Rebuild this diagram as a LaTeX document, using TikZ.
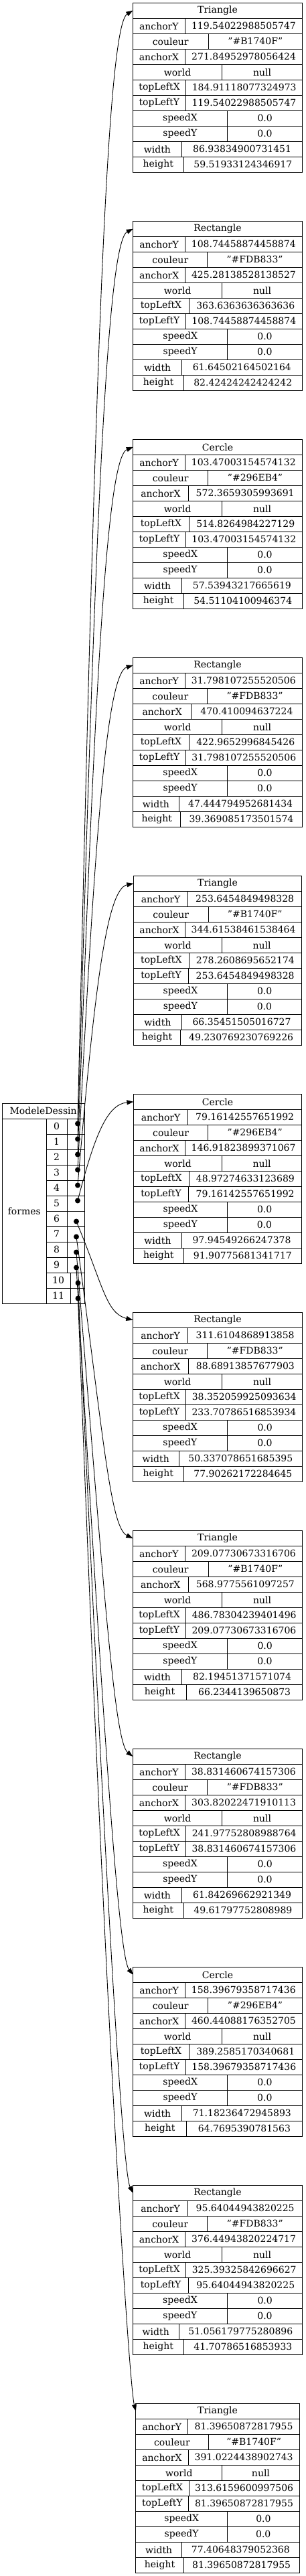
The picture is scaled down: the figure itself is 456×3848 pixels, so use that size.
\documentclass[tikz,border=0pt]{standalone}
\usepackage{fontspec}
\setmainfont{DejaVu Serif}
\usetikzlibrary{arrows.meta,calc}

\newcommand\recfont{\fontsize{14}{16}\selectfont}
\newdimen\keyw
\newdimen\valw
\newdimen\rowmax
% natural width of a cell text, spaces from the lists stripped
\newcommand\measure[2]{\setbox0=\hbox{\recfont\ignorespaces#2\unskip}#1=\wd0\relax}
% widest key+value pair of a record
\newcommand\fitrow[2]{%
  \measure\keyw{#1}\measure\valw{#2}%
  \ifdim\dimexpr\keyw+\valw\relax>\rowmax \global\rowmax=\dimexpr\keyw+\valw\relax\fi}

\def\rh{23}
\def\cx{325}
\def\gap{326}

% index / kind / anchorY / couleur / anchorX / topLeftX / topLeftY / width / height
\def\shapes{%
  0/Triangle/119.54022988505747/"\#B1740F"/271.84952978056424/184.91118077324973/119.54022988505747/86.93834900731451/59.51933124346917,%
  1/Rectangle/108.74458874458874/"\#FDB833"/425.28138528138527/363.6363636363636/108.74458874458874/61.64502164502164/82.42424242424242,%
  2/Cercle/103.47003154574132/"\#296EB4"/572.3659305993691/514.8264984227129/103.47003154574132/57.53943217665619/54.51104100946374,%
  3/Rectangle/31.798107255520506/"\#FDB833"/470.410094637224/422.9652996845426/31.798107255520506/47.444794952681434/39.369085173501574,%
  4/Triangle/253.6454849498328/"\#B1740F"/344.61538461538464/278.2608695652174/253.6454849498328/66.35451505016727/49.230769230769226,%
  5/Cercle/79.16142557651992/"\#296EB4"/146.91823899371067/48.97274633123689/79.16142557651992/97.94549266247378/91.90775681341717,%
  6/Rectangle/311.6104868913858/"\#FDB833"/88.68913857677903/38.352059925093634/233.70786516853934/50.337078651685395/77.90262172284645,%
  7/Triangle/209.07730673316706/"\#B1740F"/568.9775561097257/486.78304239401496/209.07730673316706/82.19451371571074/66.2344139650873,%
  8/Rectangle/38.831460674157306/"\#FDB833"/303.82022471910113/241.97752808988764/38.831460674157306/61.84269662921349/49.61797752808989,%
  9/Cercle/158.39679358717436/"\#296EB4"/460.44088176352705/389.2585170340681/158.39679358717436/71.18236472945893/64.7695390781563,%
  10/Rectangle/95.64044943820225/"\#FDB833"/376.44943820224717/325.39325842696627/95.64044943820225/51.056179775280896/41.70786516853933,%
  11/Triangle/81.39650872817955/"\#B1740F"/391.0224438902743/313.6159600997506/81.39650872817955/77.40648379052368/81.39650872817955%
}
\def\rowlist{anchorY/\ay,couleur/\col,anchorX/\ax,world/null,topLeftX/\tlx,topLeftY/\tly,speedX/0.0,speedY/0.0,width/\vw,height/\vh}

\tikzset{
  cell/.style={draw=black, line width=0.9pt, minimum height=\rh pt, inner sep=0pt, outer sep=0pt, font=\recfont},
  link/.style={line width=0.9pt, -{Triangle[length=10pt,width=7pt]}},
}

\begin{document}
% record widths and key/value splits, measured outside the picture
\foreach \i/\kind/\ay/\col/\ax/\tlx/\tly/\vw/\vh in \shapes {%
  \global\rowmax=0pt
  \foreach \k/\v in \rowlist {\fitrow{\k}{\v}}%
  \pgfmathsetmacro{\W}{\the\rowmax+36}%
  \expandafter\xdef\csname recw\i\endcsname{\W}%
  \foreach \k/\v [count=\r] in \rowlist {%
    \measure\keyw{\k}\measure\valw{\v}%
    \pgfmathsetmacro{\kx}{(\W+\the\keyw-\the\valw)/2}%
    \expandafter\xdef\csname reck\i-\r\endcsname{\kx}%
  }%
}%
\begin{tikzpicture}[x=1pt, y=-1pt]
\fill[white] (0,0) rectangle (456,3848);
\useasboundingbox (0,0) rectangle (456,3848);

% ModeleDessin: header, list cell, then index | pointer rows
\node[cell, anchor=north west, minimum width=122.7pt] (modele) at (3.3,1648) {ModeleDessin};
\node[cell, anchor=north west, minimum width=66pt, minimum height=276pt] (formes) at (3.3,1671) {formes};
\foreach \r in {0,...,11} {
  \pgfmathsetmacro{\iw}{\r<10 ? 30.7 : 35.7}
  \node[cell, anchor=north west, minimum width=\iw pt] (n\r) at (69.3,{1671+\rh*\r}) {\r};
  \node[cell, anchor=north west, minimum width={(56.7-\iw)*1pt}] (p\r) at ({69.3+\iw},{1671+\rh*\r}) {};
}

% one record per shape
\foreach \i/\kind/\ay/\col/\ax/\tlx/\tly/\vw/\vh in \shapes {
  \pgfmathsetmacro{\ytop}{4.3+\gap*\i}
  \edef\W{\csname recw\i\endcsname}
  \pgfmathsetmacro{\lx}{\cx-\W/2}
  \node[cell, anchor=north west, minimum width=\W pt] (h\i) at (\lx,\ytop) {\kind};
  \foreach \k/\v [count=\r] in \rowlist {
    \edef\kx{\csname reck\i-\r\endcsname}
    \pgfmathsetmacro{\yy}{\ytop+\rh*\r}
    \node[cell, anchor=north west, minimum width=\kx pt] (k\i-\r) at (\lx,\yy) {\k};
    \node[cell, anchor=north west, minimum width={(\W-\kx)*1pt}] (v\i-\r) at ({\lx+\kx},\yy) {\v};
  }
}

% pointers: dot in the cell, spline to the west side of the record header
\foreach \i in {0,...,11} {
  \pgfmathsetmacro{\dy}{\i<6 ? -4 : 4}
  \pgfmathsetmacro{\ox}{\i<6 ? 3 : 1}
  \pgfmathsetmacro{\sx}{\i<6 ? 25 : 40}
  \pgfmathsetmacro{\ex}{\i<6 ? -40 : -(40-6*(\i-6))}
  \pgfmathsetmacro{\ey}{\i<6 ? 4*(6-\i) : -(10+6*(\i-6))}
  \coordinate (d\i) at ($(p\i.center)+(\ox,\dy)$);
  \fill (d\i) circle (4pt);
  \draw[link] (d\i) .. controls ($(d\i)!0.65!(d\i|-h\i.west)+(\sx,0)$) and ($(h\i.west)+(\ex,\ey)$) .. (h\i.west);
}
\end{tikzpicture}
\end{document}
